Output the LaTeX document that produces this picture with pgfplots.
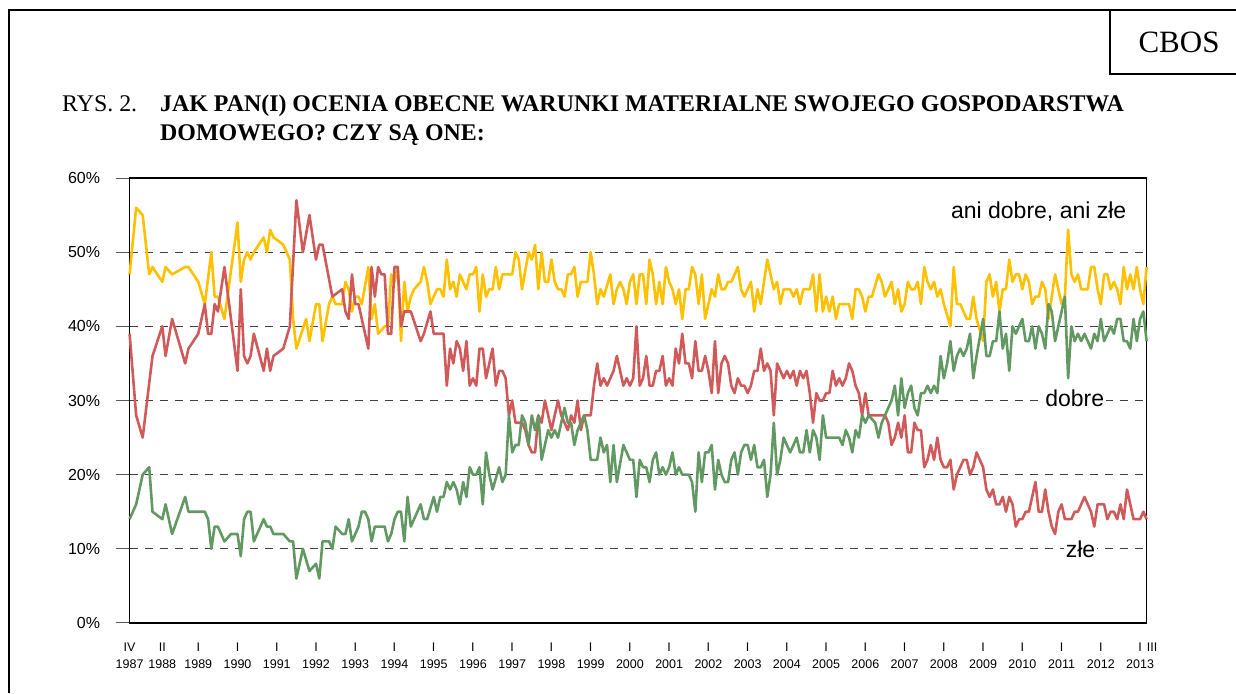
\documentclass[border=0pt]{standalone}
\usepackage{pgfplots}
\pgfplotsset{compat=1.18}
\usepackage{fontspec}
\setmainfont{Liberation Serif}
\newfontfamily\arial{Liberation Sans}
\definecolor{cyel}{RGB}{255,192,0}
\definecolor{cred}{RGB}{208,90,90}
\definecolor{cgreen}{RGB}{98,152,98}
\begin{document}
\begin{tikzpicture}
\path[use as bounding box] (0pt,0pt) rectangle (1236pt,693pt);
\draw[line width=2pt] (9pt,0pt) -- (9pt,683pt) -- (1237pt,683pt);
\draw[line width=1.5pt] (1110pt,683pt) -- (1110pt,619pt) -- (1237pt,619pt);
\node[font=\fontsize{31}{36}\selectfont] at (1179pt,651pt) {CBOS};
\node[anchor=base west, inner sep=0pt, font=\fontsize{23.9}{28}\selectfont] at (62pt,581pt) {RYS. 2.};
\node[anchor=base west, inner sep=0pt, font=\fontsize{23.9}{28}\selectfont\bfseries] at (160pt,581pt) {JAK PAN(I) OCENIA OBECNE WARUNKI MATERIALNE SWOJEGO GOSPODARSTWA};
\node[anchor=base west, inner sep=0pt, font=\fontsize{23.9}{28}\selectfont\bfseries] at (160pt,552pt) {DOMOWEGO? CZY SĄ ONE:};
\begin{axis}[
  at={(129.6pt,70pt)}, anchor=south west,
  width=1017pt, height=445pt, scale only axis,
  xmin=0, xmax=311, ymin=0, ymax=60,
  axis line style={line width=1.5pt, black},
  ytick={0,10,20,30,40,50,60},
  yticklabels={0\%,10\%,20\%,30\%,40\%,50\%,60\%},
  yticklabel style={font=\arial\fontsize{16}{18}\selectfont, xshift=-12pt},
  ytick pos=left,
  ymajorgrids,
  grid style={dash pattern=on 8pt off 7pt, line width=1pt, black!75},
  tick align=outside, major tick length=14pt,
  ytick style={line width=1pt, black!65},
  xtick={0,10,21,33,45,57,69,81,93,105,117,129,141,153,165,177,189,201,213,225,237,249,261,273,285,297,309},
  xticklabels={{IV\\1987},{II\\1988},{I\\1989},{I\\1990},{I\\1991},{I\\1992},{I\\1993},{I\\1994},{I\\1995},{I\\1996},{I\\1997},{I\\1998},{I\\1999},{I\\2000},{I\\2001},{I\\2002},{I\\2003},{I\\2004},{I\\2005},{I\\2006},{I\\2007},{I\\2008},{I\\2009},{I\\2010},{I\\2011},{I\\2012},{I\rlap{\hspace{0.4em}III}\\2013}},
  xticklabel style={align=center, font=\arial\fontsize{12.5}{17}\selectfont, yshift=-2pt},
  xtick style={draw=none},
  clip=false,
  every axis plot/.append style={line width=2.6pt, line join=round, no markers},
]
\addplot[cyel] coordinates {(0,47)(2,56)(4,55)(6,47)(7,48)(10,46)(11,48)(13,47)(17,48)(18,48)(21,46)(23,43)(25,50)(26,44)(27,44)(29,41)(33,54)(34,46)(35,49)(36,50)(37,49)(38,50)(41,52)(42,50)(43,53)(44,52)(47,51)(49,49)(50,41)(51,37)(54,41)(55,38)(57,43)(58,43)(59,38)(61,43)(62,44)(63,43)(65,43)(66,46)(67,45)(68,42)(69,44)(70,44)(71,43)(73,48)(74,41)(75,43)(76,39)(78,40)(79,40)(80,47)(81,46)(82,48)(83,38)(84,46)(85,42)(86,44)(87,45)(89,46)(90,48)(91,46)(92,43)(94,45)(95,45)(96,44)(97,49)(98,45)(99,46)(100,44)(101,47)(103,45)(104,47)(105,47)(106,48)(107,42)(108,47)(109,44)(110,45)(111,45)(112,48)(113,45)(114,47)(117,47)(118,50)(119,49)(120,45)(122,50)(123,49)(124,51)(125,45)(126,50)(127,46)(128,46)(129,49)(130,46)(131,45)(132,45)(133,44)(134,47)(135,47)(136,48)(137,44)(138,46)(140,46)(141,50)(142,47)(143,43)(144,45)(145,44)(147,47)(148,43)(149,45)(150,46)(151,45)(152,43)(153,46)(154,47)(155,43)(156,47)(157,47)(158,43)(159,49)(160,47)(161,43)(162,46)(163,43)(164,48)(165,46)(166,45)(167,43)(168,45)(169,41)(170,45)(171,45)(172,48)(173,47)(174,43)(175,47)(176,41)(177,43)(178,45)(179,44)(180,47)(181,45)(182,45)(183,46)(184,46)(186,48)(187,45)(188,44)(190,46)(191,42)(192,45)(193,43)(194,46)(195,49)(196,47)(197,45)(198,46)(199,43)(200,45)(202,45)(203,44)(204,45)(205,43)(206,45)(208,45)(209,47)(210,42)(211,47)(212,42)(213,44)(214,42)(215,44)(216,41)(217,43)(220,43)(221,41)(222,45)(223,45)(224,44)(225,42)(226,44)(227,44)(229,47)(230,46)(231,44)(232,45)(233,46)(234,43)(235,45)(236,42)(237,43)(238,46)(239,45)(240,45)(241,46)(242,43)(243,48)(244,46)(245,45)(246,46)(247,44)(248,45)(249,43)(251,40)(252,48)(253,43)(254,43)(255,42)(256,41)(257,41)(258,44)(259,41)(261,38)(262,46)(263,47)(264,44)(265,46)(266,42)(267,45)(268,45)(269,49)(270,46)(271,47)(272,47)(273,45)(274,47)(275,46)(276,43)(277,44)(278,44)(279,46)(280,45)(281,41)(283,47)(284,45)(285,43)(286,44)(287,53)(288,47)(289,46)(290,47)(291,45)(293,45)(294,48)(295,48)(296,45)(297,43)(298,47)(299,47)(300,45)(301,46)(302,45)(303,43)(304,48)(305,45)(306,47)(307,45)(308,48)(309,45)(310,43)(311,48)};
\addplot[cred] coordinates {(0,39)(2,28)(4,25)(7,36)(10,40)(11,36)(13,41)(17,35)(18,37)(21,39)(23,43)(24,39)(25,39)(26,43)(27,42)(29,48)(33,34)(34,45)(35,36)(36,35)(37,36)(38,39)(41,34)(42,37)(43,34)(44,36)(47,37)(49,40)(51,57)(53,50)(55,55)(57,49)(58,51)(59,51)(62,44)(65,45)(66,42)(67,41)(68,47)(69,43)(70,43)(73,37)(74,48)(75,44)(76,48)(77,47)(78,47)(79,39)(80,39)(81,48)(82,48)(83,40)(84,42)(86,42)(89,38)(90,39)(92,42)(93,39)(96,39)(97,32)(98,37)(99,35)(100,38)(101,37)(102,34)(103,38)(104,32)(105,33)(106,32)(107,37)(108,37)(109,33)(111,37)(112,32)(113,34)(114,34)(115,33)(116,28)(117,30)(118,27)(119,27)(120,27)(121,26)(122,24)(123,23)(124,23)(125,28)(126,27)(127,30)(128,28)(129,26)(130,28)(131,30)(132,28)(133,27)(134,26)(135,28)(136,27)(137,30)(138,26)(139,28)(140,28)(141,28)(142,32)(143,35)(144,32)(145,33)(146,32)(147,33)(148,34)(149,36)(150,34)(151,32)(152,33)(153,32)(154,33)(155,40)(156,32)(157,33)(158,36)(159,32)(160,32)(161,34)(162,34)(163,36)(164,32)(165,33)(166,32)(167,37)(168,35)(169,39)(170,35)(171,35)(172,33)(173,38)(174,34)(175,34)(176,36)(177,34)(178,31)(179,38)(180,31)(181,35)(182,36)(183,35)(184,32)(185,31)(186,33)(187,32)(188,32)(189,31)(190,32)(191,34)(192,34)(193,37)(194,34)(195,35)(196,34)(197,28)(198,35)(199,34)(200,33)(201,34)(202,33)(203,34)(204,32)(205,34)(206,33)(207,34)(208,31)(209,27)(210,31)(211,30)(212,30)(213,31)(214,31)(215,34)(216,32)(217,33)(218,32)(219,33)(220,35)(221,34)(222,32)(223,31)(224,28)(225,31)(226,28)(227,28)(228,28)(229,28)(230,28)(231,28)(232,27)(233,24)(234,25)(235,27)(236,25)(237,28)(238,23)(239,23)(240,27)(241,26)(242,26)(243,21)(244,22)(245,24)(246,22)(247,25)(248,22)(249,21)(250,21)(251,22)(252,18)(253,20)(254,21)(255,22)(256,22)(257,20)(258,21)(259,23)(260,22)(261,21)(262,18)(263,17)(264,18)(265,16)(266,16)(267,17)(268,15)(269,17)(270,16)(271,13)(272,14)(273,14)(274,15)(275,15)(276,17)(277,19)(278,15)(279,15)(280,18)(281,15)(282,13)(283,12)(284,15)(285,16)(286,14)(287,14)(288,14)(289,15)(290,15)(291,16)(292,17)(293,16)(294,15)(295,13)(296,16)(297,16)(298,16)(299,14)(300,15)(301,15)(302,14)(303,16)(304,14)(305,18)(306,16)(307,14)(308,14)(309,14)(310,15)(311,14)};
\addplot[cgreen] coordinates {(0,14)(2,16)(4,20)(6,21)(7,15)(10,14)(11,16)(13,12)(17,17)(18,15)(23,15)(24,14)(25,10)(26,13)(27,13)(29,11)(31,12)(33,12)(34,9)(35,14)(36,15)(37,15)(38,11)(41,14)(42,13)(43,13)(44,12)(47,12)(49,11)(50,11)(51,6)(53,10)(55,7)(57,8)(58,6)(59,11)(61,11)(62,10)(63,13)(65,12)(66,12)(67,14)(68,11)(70,13)(71,15)(72,15)(73,14)(74,11)(75,13)(78,13)(79,11)(80,12)(81,14)(82,15)(83,15)(84,11)(85,17)(86,13)(89,16)(90,14)(91,14)(93,17)(94,15)(95,17)(96,17)(97,19)(98,18)(99,19)(100,18)(101,16)(102,19)(103,17)(104,21)(105,20)(106,20)(107,21)(108,16)(109,23)(110,20)(111,18)(113,21)(114,19)(115,20)(116,28)(117,23)(118,24)(119,24)(120,28)(121,27)(122,24)(123,28)(124,26)(125,28)(126,22)(127,24)(128,26)(129,25)(130,26)(131,25)(132,27)(133,29)(134,27)(135,27)(136,24)(137,26)(138,27)(139,28)(140,26)(141,22)(143,22)(144,25)(145,23)(146,24)(147,19)(148,24)(149,19)(151,24)(152,23)(153,22)(154,22)(155,17)(156,22)(157,21)(158,21)(159,19)(160,22)(161,23)(162,20)(163,21)(164,20)(165,21)(166,23)(167,20)(168,21)(169,20)(171,20)(172,19)(173,15)(174,23)(175,19)(176,23)(177,23)(178,24)(179,18)(180,22)(181,20)(182,19)(183,19)(184,22)(185,23)(186,20)(187,23)(188,24)(189,24)(190,22)(191,24)(192,21)(193,21)(194,22)(195,17)(196,20)(197,27)(198,20)(199,22)(200,25)(201,24)(202,23)(203,24)(204,25)(205,23)(206,23)(207,26)(208,23)(209,26)(210,25)(211,22)(212,28)(213,25)(217,25)(218,24)(219,26)(220,25)(221,23)(222,26)(223,25)(224,28)(225,27)(226,28)(228,27)(229,25)(230,27)(231,28)(232,29)(233,30)(234,32)(235,28)(236,33)(237,29)(238,31)(239,32)(240,29)(241,28)(242,31)(243,31)(244,32)(245,31)(246,32)(247,31)(248,36)(249,33)(250,35)(251,38)(252,34)(253,36)(254,37)(255,36)(256,37)(257,39)(258,33)(259,36)(261,41)(262,36)(263,36)(264,38)(265,38)(266,42)(267,37)(268,39)(269,34)(270,40)(271,39)(272,40)(273,41)(274,38)(275,38)(276,40)(277,37)(278,40)(279,39)(280,37)(281,43)(282,42)(283,38)(284,40)(286,44)(287,33)(288,40)(289,38)(290,39)(291,38)(292,39)(293,38)(294,37)(295,39)(296,38)(297,41)(298,38)(299,39)(300,40)(301,39)(302,41)(303,41)(304,38)(305,38)(306,37)(307,41)(308,38)(309,41)(310,42)(311,38)};
\node[font=\arial\fontsize{23}{26}\selectfont] at (axis cs:278,55.4) {ani dobre, ani złe};
\node[fill=white, inner sep=2pt, font=\arial\fontsize{23}{26}\selectfont] at (axis cs:289,30.3) {dobre};
\node[fill=white, inner sep=2pt, font=\arial\fontsize{23}{26}\selectfont] at (axis cs:290.8,10) {złe};
\end{axis}
\end{tikzpicture}
\end{document}
